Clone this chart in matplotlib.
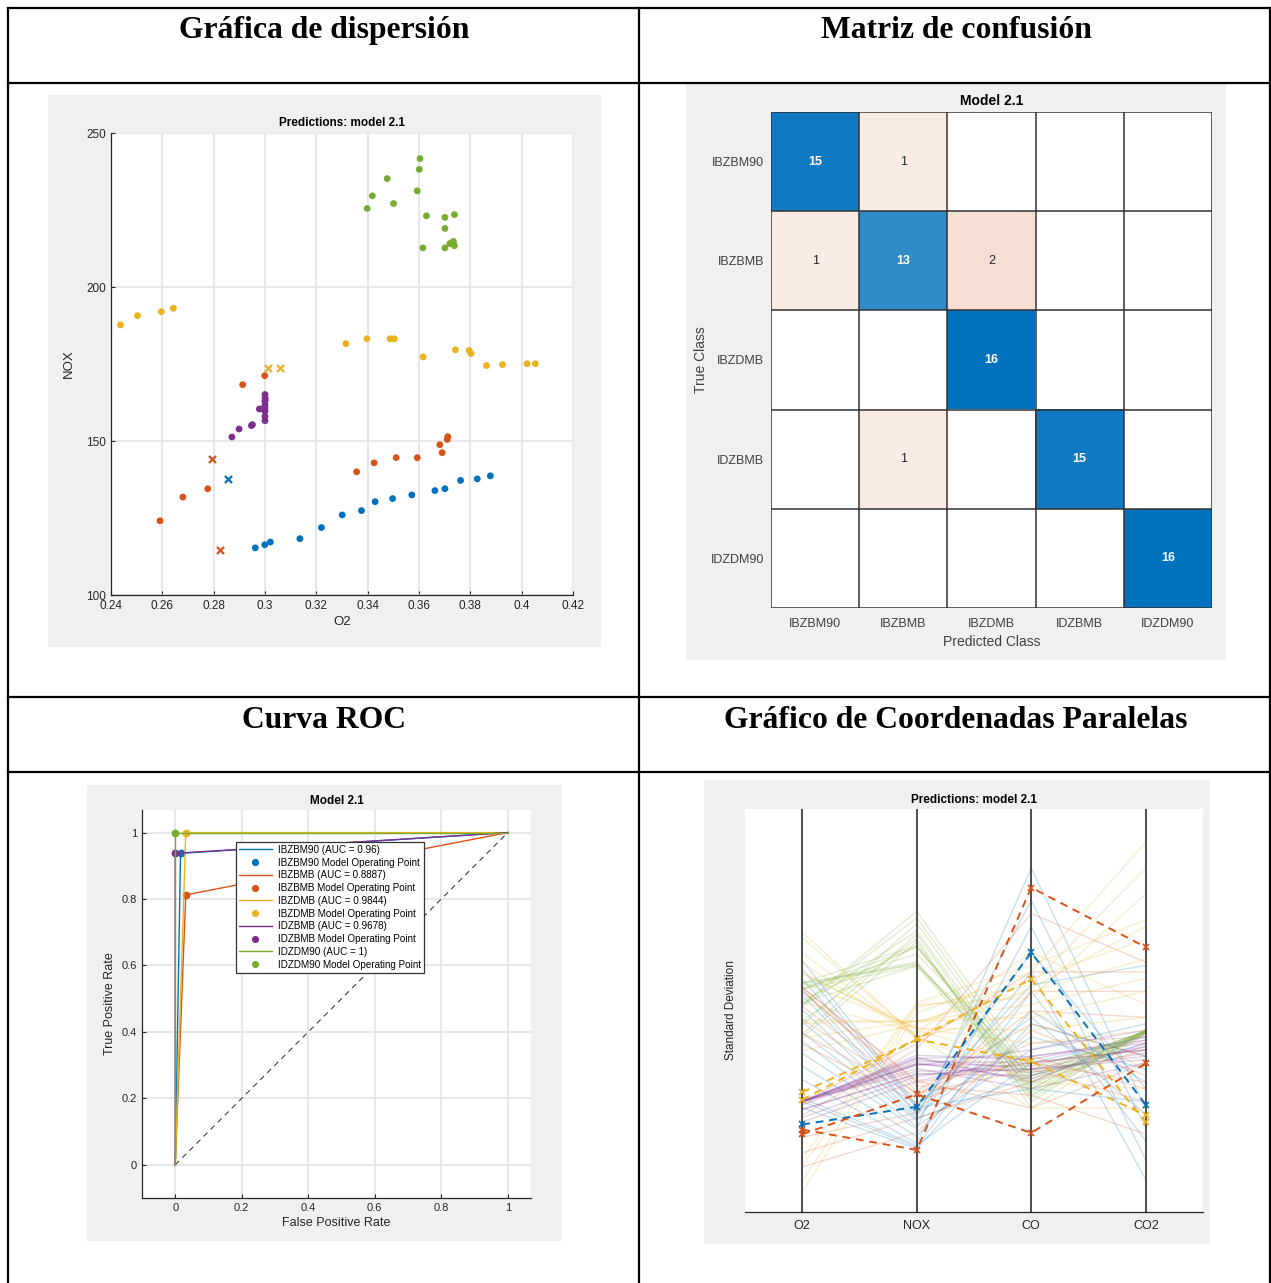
import numpy as np
import matplotlib
matplotlib.use("Agg")
import matplotlib.pyplot as plt
from matplotlib.lines import Line2D
from matplotlib.patches import Rectangle

plt.rcParams["font.family"] = "Liberation Sans"

W, H = 1271, 1283

# --- class names and colours (MATLAB default order) ---
classes = ["IBZBM90", "IBZBMB", "IBZDMB", "IDZBMB", "IDZDM90"]
colors = ["#0072BD", "#D95319", "#EDB120", "#7E2F8E", "#77AC30"]

# --- correctly predicted samples: O2, NOX, CO (sd), CO2 (sd) ---
o2_ibzbm90 = [0.2962, 0.2999, 0.3021, 0.3136, 0.3220, 0.3301, 0.3376, 0.3429,
              0.3497, 0.3572, 0.3662, 0.3701, 0.3762, 0.3827, 0.3878]
nox_ibzbm90 = [115.3, 116.3, 117.2, 118.3, 121.9, 126.0, 127.4, 130.3,
               131.3, 132.5, 133.9, 134.5, 137.2, 137.7, 138.7]
co_ibzbm90 = [0.4, 0.9, -0.2, 1.9, 0.6, 2.8, 0.0, 1.2, -0.4, 2.3, 0.2, 1.5, -0.6, 1.0, 0.5]
co2_ibzbm90 = [-0.1, -1.4, 0.2, -1.7, -0.5, -0.9, 0.4, -2.0, 0.1, -1.2, -0.3, -0.6, -0.8, 1.3, -1.0]

o2_ibzbmb = [0.2591, 0.2680, 0.2777, 0.2913, 0.2999, 0.3357, 0.3425, 0.3511,
             0.3593, 0.3681, 0.3690, 0.3710, 0.3712]
nox_ibzbmb = [124.1, 131.8, 134.5, 168.3, 171.2, 140.0, 142.9, 144.6,
              144.6, 148.8, 146.2, 150.5, 151.4]
co_ibzbmb = [0.3, -0.5, 0.9, 2.1, 1.2, -0.1, 0.6, -0.3, 0.1, -0.7, 0.4, -0.2, -0.9]
co2_ibzbmb = [-0.4, 0.0, 0.9, 1.35, 1.2, -0.6, 0.5, -0.8, 0.2, -1.3, -0.1, -0.5, -0.2]

o2_ibzdmb = [0.2437, 0.2503, 0.2596, 0.2643, 0.3315, 0.3397, 0.3487, 0.3504,
             0.3616, 0.3742, 0.3795, 0.3803, 0.3863, 0.3925, 0.4021, 0.4053]
nox_ibzdmb = [187.7, 190.7, 192.0, 193.1, 181.6, 183.2, 183.2, 183.2,
              177.3, 179.6, 179.4, 178.4, 174.5, 174.8, 175.1, 175.1]
co_ibzdmb = [1.2, 1.0, 0.8, 1.3, 1.1, 0.9, 0.7, 0.5, 1.5, 0.3, 0.1, -0.2, 0.6, -0.5, 0.95, -0.9]
co2_ibzdmb = [3.2, 2.8, 2.4, 2.0, 1.7, 1.4, 1.1, 0.9, 0.7, 0.5, 0.3, 0.0, -0.3, -0.6, 1.9, -0.9]

o2_idzbmb = [0.2871, 0.2899, 0.2947, 0.2951, 0.2978, 0.2990, 0.3000, 0.3000,
             0.3000, 0.3000, 0.3000, 0.3000, 0.3000, 0.3000, 0.3001]
nox_idzbmb = [151.3, 153.9, 155.0, 155.3, 160.4, 160.4, 165.1, 164.0,
              162.9, 161.8, 160.8, 159.7, 158.0, 156.6, 163.5]
co_idzbmb = [-0.1, -0.2, -0.3, -0.4, -0.25, -0.35, -0.15, -0.5, -0.3, -0.2, -0.45, 0.0, -0.6, -0.3, -0.1]
co2_idzbmb = [0.1, 0.0, -0.1, 0.05, 0.15, -0.05, 0.2, 0.25, -0.15, 0.0, 0.1, 0.3, -0.2, 0.05, 0.15]

o2_idzdm90 = [0.3604, 0.3601, 0.3476, 0.3593, 0.3418, 0.3398, 0.3501, 0.3629,
              0.3701, 0.3738, 0.3701, 0.3615, 0.3701, 0.3720, 0.3734, 0.3738]
nox_idzdm90 = [241.7, 238.2, 235.2, 231.2, 229.6, 225.5, 227.1, 223.1,
               222.6, 223.5, 219.0, 212.7, 212.7, 214.1, 214.8, 213.4]
co_idzdm90 = [-0.3, -0.4, -0.5, -0.6, -0.7, -0.8, -0.9, -0.45, -0.55, -0.65, -0.35, -0.75, -0.5, -0.6, -0.7, -0.4]
co2_idzdm90 = [0.28, 0.3, 0.26, 0.29, 0.27, 0.31, 0.25, 0.28, 0.3, 0.27, 0.29, 0.26, 0.28, 0.3, 0.27, 0.29]

# --- misclassified samples ---
miss_o2 = [0.2824, 0.2856, 0.3010, 0.3057, 0.2795]
miss_nox = [114.7, 137.7, 173.6, 173.6, 144.3]
miss_co = [2.5, 1.5, 1.09, -0.18, -1.28]
miss_co2 = [1.58, -0.85, -1.12, -1.01, -0.21]
miss_pred = [1, 0, 2, 2, 1]

# --- confusion matrix (rows: true, cols: predicted) ---
conf = np.array([[15, 1, 0, 0, 0],
                 [1, 13, 2, 0, 0],
                 [0, 0, 16, 0, 0],
                 [0, 1, 0, 15, 0],
                 [0, 0, 0, 0, 16]])

# --- ROC operating points and AUC ---
roc_fpr = [0.0159, 0.0317, 0.0317, 0.0, 0.0]
roc_tpr = [0.9375, 0.8125, 1.0, 0.9375, 1.0]
roc_auc = ["0.96", "0.8887", "0.9844", "0.9678", "1"]

o2_sets = [o2_ibzbm90, o2_ibzbmb, o2_ibzdmb, o2_idzbmb, o2_idzdm90]
nox_sets = [nox_ibzbm90, nox_ibzbmb, nox_ibzdmb, nox_idzbmb, nox_idzdm90]
co_sets = [co_ibzbm90, co_ibzbmb, co_ibzdmb, co_idzbmb, co_idzdm90]
co2_sets = [co2_ibzbm90, co2_ibzbmb, co2_ibzdmb, co2_idzbmb, co2_idzdm90]

TXT = "#262626"
PANEL = "#f0f0f0"


def px_rect(x0, y0, x1, y1):
    return [x0 / W, 1 - y1 / H, (x1 - x0) / W, (y1 - y0) / H]


def panel(fig, x0, y0, x1, y1):
    fig.add_artist(Rectangle((x0 / W, 1 - y1 / H), (x1 - x0) / W, (y1 - y0) / H,
                             transform=fig.transFigure, facecolor=PANEL,
                             edgecolor="none", zorder=-2))


def matlab_axes(ax, spines=("left", "bottom")):
    for s in ["left", "right", "top", "bottom"]:
        ax.spines[s].set_visible(s in spines)
        ax.spines[s].set_color(TXT)
        ax.spines[s].set_linewidth(0.9)
    ax.tick_params(direction="in", length=3, width=0.8, colors=TXT, labelsize=8.5,
                   labelcolor=TXT)


fig = plt.figure(figsize=(W / 100, H / 100), dpi=100)
fig.patch.set_facecolor("white")

# --- table frame ---
lw_tab = 1.6
for x in [8, 639, 1269.5]:
    fig.add_artist(Line2D([x / W, x / W], [1 - 8 / H, 0], transform=fig.transFigure,
                          color="black", lw=lw_tab))
for y in [8, 83, 697, 772]:
    fig.add_artist(Line2D([8 / W, 1269.5 / W], [1 - y / H, 1 - y / H],
                          transform=fig.transFigure, color="black", lw=lw_tab))

headers = [("Gráfica de dispersión", 324, 38), ("Matriz de confusión", 956, 38),
           ("Curva ROC", 324, 728), ("Gráfico de Coordenadas Paralelas", 956, 728)]
for txt, x, y in headers:
    fig.text(x / W, 1 - y / H, txt, ha="center", va="baseline",
             family="Liberation Serif", weight="bold", fontsize=22.8)

# --- scatter plot ---
panel(fig, 48, 95, 601, 647)
ax1 = fig.add_axes(px_rect(111, 133, 573, 595))
for i in range(5):
    ax1.scatter(o2_sets[i], nox_sets[i], s=24, color=colors[i], edgecolors="none", zorder=3)
for i in range(len(miss_o2)):
    ax1.scatter(miss_o2[i], miss_nox[i], s=26, marker="x", color=colors[miss_pred[i]],
                linewidths=1.6, zorder=3)
ax1.set_xlim(0.24, 0.42)
ax1.set_ylim(100, 250)
xt = np.arange(0.24, 0.4201, 0.02)
ax1.set_xticks(xt)
ax1.set_xticklabels([f"{v:.2f}".rstrip("0") for v in xt])
ax1.set_yticks([100, 150, 200, 250])
ax1.grid(True, color="#e3e3e3", lw=1.2)
ax1.set_axisbelow(True)
matlab_axes(ax1)
ax1.set_xlabel("O2", fontsize=9.5, color=TXT, labelpad=3)
ax1.set_ylabel("NOX", fontsize=9.5, color=TXT, labelpad=8)
ax1.set_title("Predictions: model 2.1", fontsize=8.5, weight="bold", pad=5)

# --- confusion matrix ---
panel(fig, 686, 83, 1226, 660)
ax2 = fig.add_axes(px_rect(771, 112, 1212, 608))
diag_base = np.array([0.0, 0.447, 0.741])
off_base = np.array([0.85, 0.325, 0.098])
vmax = conf.max()
rgb = np.ones((5, 5, 3))
for r in range(5):
    for c in range(5):
        v = conf[r, c]
        if v == 0:
            continue
        if r == c:
            t = v / vmax
            rgb[r, c] = 1 - t * (1 - diag_base)
        else:
            t = (v / vmax) ** 0.8
            rgb[r, c] = 1 - t * (1 - off_base)
        ax2.text(c, r, str(v), ha="center", va="center", fontsize=9,
                 color="white" if r == c else TXT, weight="bold" if r == c else "normal")
ax2.imshow(rgb, aspect="auto", extent=(-0.5, 4.5, 4.5, -0.5))
for k in np.arange(-0.5, 5, 1):
    ax2.axhline(k, color="#333333", lw=1.1)
    ax2.axvline(k, color="#333333", lw=1.1)
ax2.set_xlim(-0.5, 4.5)
ax2.set_ylim(4.5, -0.5)
ax2.set_xticks(range(5))
ax2.set_xticklabels(classes)
ax2.set_yticks(range(5))
ax2.set_yticklabels(classes)
for s in ax2.spines.values():
    s.set_visible(False)
ax2.tick_params(length=0, labelsize=9, colors="#404040", pad=5)
ax2.tick_params(axis="x", pad=7)
ax2.set_xlabel("Predicted Class", fontsize=10, color="#404040", labelpad=4)
ax2.set_ylabel("True Class", fontsize=10, color="#404040", labelpad=2)
ax2.set_title("Model 2.1", fontsize=10, weight="bold", pad=5)

# --- ROC curves ---
panel(fig, 87, 785, 562, 1241)
ax3 = fig.add_axes(px_rect(142, 810, 531, 1198))
ax3.plot([0, 1], [0, 1], ls=(0, (5, 4)), color="#404040", lw=0.8)
handles = []
for i in range(5):
    ln, = ax3.plot([0, roc_fpr[i], 1], [0, roc_tpr[i], 1], color=colors[i], lw=1,
                   label=f"{classes[i]} (AUC = {roc_auc[i]})")
    pt, = ax3.plot(roc_fpr[i], roc_tpr[i], "o", color=colors[i], ms=4.6,
                   label=f"{classes[i]} Model Operating Point")
    handles += [ln, pt]
ax3.set_xlim(-0.1, 1.07)
ax3.set_ylim(-0.1, 1.068)
ax3.set_xticks([0, 0.2, 0.4, 0.6, 0.8, 1])
ax3.set_xticklabels(["0", "0.2", "0.4", "0.6", "0.8", "1"])
ax3.set_yticks([0, 0.2, 0.4, 0.6, 0.8, 1])
ax3.set_yticklabels(["0", "0.2", "0.4", "0.6", "0.8", "1"])
ax3.grid(True, color="#e3e3e3", lw=1.2)
ax3.set_axisbelow(True)
matlab_axes(ax3)
ax3.tick_params(labelsize=8)
ax3.set_xlabel("False Positive Rate", fontsize=9, color=TXT, labelpad=3)
ax3.set_ylabel("True Positive Rate", fontsize=9, color=TXT, labelpad=4)
ax3.set_title("Model 2.1", fontsize=8.5, weight="bold", pad=4)
leg = ax3.legend(handles=handles, loc="upper left", bbox_to_anchor=(0.242, 0.918),
                 borderaxespad=0, fontsize=7.1, fancybox=False, framealpha=1,
                 edgecolor="#333333", handlelength=3.3, labelspacing=0.28,
                 handletextpad=0.6, borderpad=0.3, markerscale=0.9)
leg.get_frame().set_linewidth(0.9)

# --- parallel coordinates (standardised values) ---
panel(fig, 704, 780, 1210, 1244)
ax4 = fig.add_axes(px_rect(745, 809, 1203, 1212))
all_o2 = np.concatenate([np.array(s) for s in o2_sets] + [np.array(miss_o2)])
all_nox = np.concatenate([np.array(s) for s in nox_sets] + [np.array(miss_nox)])
o2_mu, o2_sd = all_o2.mean(), all_o2.std(ddof=1)
nox_mu, nox_sd = all_nox.mean(), all_nox.std(ddof=1)
xs = [1, 2, 3, 4]
for i in range(5):
    for j in range(len(o2_sets[i])):
        ys = [(o2_sets[i][j] - o2_mu) / o2_sd, (nox_sets[i][j] - nox_mu) / nox_sd,
              co_sets[i][j], co2_sets[i][j]]
        ax4.plot(xs, ys, color=colors[i], alpha=0.22, lw=1)
for j in range(len(miss_o2)):
    ys = [(miss_o2[j] - o2_mu) / o2_sd, (miss_nox[j] - nox_mu) / nox_sd,
          miss_co[j], miss_co2[j]]
    ax4.plot(xs, ys, color=colors[miss_pred[j]], ls=(0, (4, 3)), lw=1.4,
             marker="x", ms=5, mew=1.2, zorder=4)
for x in xs:
    ax4.axvline(x, color="#404040", lw=1.3, zorder=3)
ax4.set_xlim(0.5, 4.5)
ax4.set_ylim(-2.5, 3.71)
ax4.set_xticks(xs)
ax4.set_xticklabels(["O2", "NOX", "CO", "CO2"])
ax4.set_yticks([])
matlab_axes(ax4, spines=("bottom",))
ax4.tick_params(axis="x", length=0, pad=6, labelsize=9)
ax4.set_ylabel("Standard Deviation", fontsize=8.5, color=TXT, labelpad=6)
ax4.set_title("Predictions: model 2.1", fontsize=8.5, weight="bold", pad=4)

fig.savefig("out.png", dpi=100, facecolor="white")
